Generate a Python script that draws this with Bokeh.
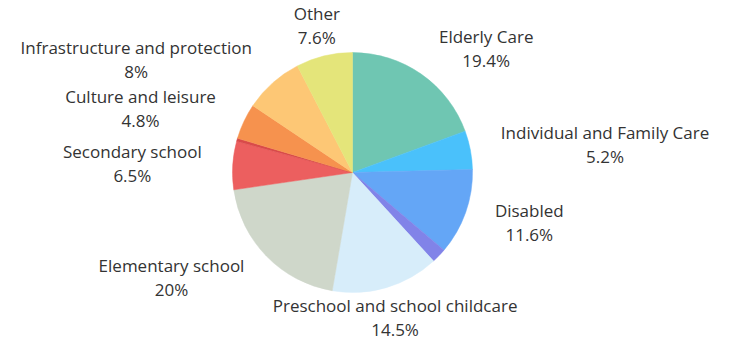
import math
from bokeh.plotting import figure
from bokeh.models import ColumnDataSource, Range1d
from bokeh.core.properties import value
from bokeh.embed import file_html
from bokeh.resources import INLINE

# ---- data (clockwise from 12 o'clock) ----
categories = ["Elderly Care", "Individual and Family Care", "Disabled", "(unlabelled A)",
              "Preschool and school childcare", "Elementary school", "Secondary school",
              "(unlabelled B)", "Culture and leisure", "Infrastructure and protection", "Other"]
shares = [19.4, 5.2, 11.6, 2.0, 14.5, 20.0, 6.5, 0.4, 4.8, 8.0, 7.6]
shown = [True, True, True, False, True, True, True, False, True, True, True]
pct_labels = ["19.4%", "5.2%", "11.6%", "", "14.5%", "20%", "6.5%", "", "4.8%", "8%", "7.6%"]
colors = ["#6fc6b2", "#4ac1fb", "#64a6f6", "#8183e8", "#d7edfa", "#cfd7ca",
          "#ec5f5f", "#d94a4a", "#f6924e", "#fdc775", "#e4e57a"]

W, H = 715, 344
CX, CY, R, RL = 352, H - 172, 120, 151

total = sum(shares)
starts, ends = [], []
cum = 0.0
lab = {"center_left": dict(x=[], y=[], t=[]), "center_right": dict(x=[], y=[], t=[]),
       "center": dict(x=[], y=[], t=[])}
for v, s, name, pl in zip(shares, shown, categories, pct_labels):
    c0 = cum / total
    c1 = (cum + v) / total
    cum += v
    starts.append(math.pi / 2 - 2 * math.pi * c1)
    ends.append(math.pi / 2 - 2 * math.pi * c0)
    if not s:
        continue
    cm = (c0 + c1) / 2
    th = math.pi / 2 - 2 * math.pi * cm
    a = cm * 360
    if 22.5 < a < 157.5:
        key = "center_left"
    elif 202.5 < a < 337.5:
        key = "center_right"
    else:
        key = "center"
    lab[key]["x"].append(CX + RL * math.cos(th))
    lab[key]["y"].append(CY + RL * math.sin(th))
    lab[key]["t"].append(name + "\n" + pl)

src = ColumnDataSource(dict(start=starts, end=ends, color=colors, name=categories))

p = figure(width=W, height=H, output_backend="svg", toolbar_location=None,
           x_range=Range1d(0, W), y_range=Range1d(0, H), min_border=0,
           outline_line_color=None, tools="")
p.axis.visible = False
p.grid.visible = False
p.background_fill_color = "white"
p.border_fill_color = "white"

p.wedge(x=CX, y=CY, radius=R, start_angle="start", end_angle="end",
        fill_color="color", line_color="color", line_width=0.5, source=src)

for key, d in lab.items():
    if not d["x"]:
        continue
    ls = ColumnDataSource(d)
    p.text(x="x", y="y", text="t", source=ls, anchor=key, text_align="center",
           text_font=value("Open Sans"), text_font_size="17px", text_color="#333333",
           text_line_height=1.04)

open("out.html", "w").write(file_html(p, INLINE))
